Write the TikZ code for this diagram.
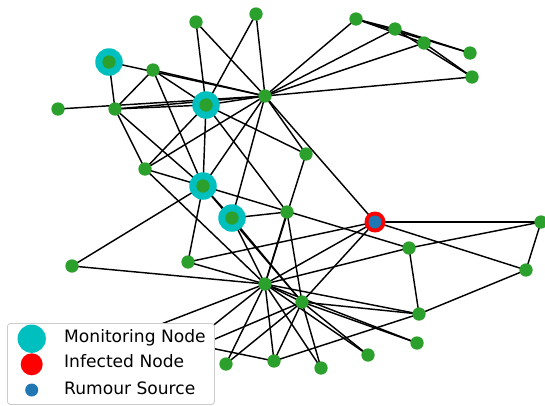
\documentclass[tikz,border=0pt]{standalone}
\usepackage{fontspec}
\setmainfont{DejaVu Sans}
\definecolor{ngreen}{HTML}{2CA02C}
\definecolor{mcyan}{HTML}{00BFBF}
\definecolor{sblue}{HTML}{1F77B4}
\definecolor{lframe}{HTML}{CCCCCC}
\pgfdeclarelayer{edges}
\pgfsetlayers{edges,main}
\tikzset{
  vtx/.style={circle, fill=ngreen, inner sep=0pt, minimum size=13.3pt},
  monitor/.style={circle, fill=mcyan, inner sep=0pt, minimum size=27.5pt},
  infected/.style={circle, fill=red, inner sep=0pt, minimum size=21pt},
  source/.style={circle, fill=sblue, inner sep=0pt, minimum size=13pt},
  link/.style={line width=1.45pt, black},
  legendbox/.style={draw=lframe, line width=0.9pt, fill=white, rounded corners=3pt,
    inner sep=0pt, anchor=north west, minimum width=207pt, minimum height=81pt},
  legendtext/.style={anchor=base west, inner sep=0pt, font=\fontsize{17.1pt}{20pt}\selectfont},
}
\begin{document}
\begin{tikzpicture}[x=1pt, y=-1pt]
\useasboundingbox (0,0) rectangle (545,405);

% monitoring halos
\node[monitor] (m1)  at (206,105) {};
\node[monitor] (m2)  at (203,186) {};
\node[monitor] (m8)  at (232,218) {};
\node[monitor] (m12) at (109,62) {};
% infected ring
\node[infected] (inf31) at (375,222) {};

% vertices
\node[vtx] (n0)  at (265,96) {};
\node[vtx] (n1)  at (206,105) {};
\node[vtx] (n2)  at (203,186) {};
\node[vtx] (n3)  at (115,109) {};
\node[vtx] (n4)  at (472,77) {};
\node[vtx] (n5)  at (356,19) {};
\node[vtx] (n6)  at (395,29) {};
\node[vtx] (n7)  at (153,70) {};
\node[vtx] (n8)  at (232,218) {};
\node[vtx] (n9)  at (72,266) {};
\node[vtx] (n10) at (424,43) {};
\node[vtx] (n11) at (58,109) {};
\node[vtx] (n12) at (109,62) {};
\node[vtx] (n13) at (145,169) {};
\node[vtx] (n14) at (226,364) {};
\node[vtx] (n15) at (417,343) {};
\node[vtx] (n16) at (470,53) {};
\node[vtx] (n17) at (196,22) {};
\node[vtx] (n18) at (368,355) {};
\node[vtx] (n19) at (306,154) {};
\node[vtx] (n20) at (321,368) {};
\node[vtx] (n21) at (256,14) {};
\coordinate (n22) at (175,356);
\node[vtx] (n23) at (419,314) {};
\node[vtx] (n24) at (541,222) {};
\node[vtx] (n25) at (526,270) {};
\coordinate (n26) at (138,333);
\node[vtx] (n27) at (409,248) {};
\node[vtx] (n28) at (188,262) {};
\node[vtx] (n29) at (274,361) {};
\node[vtx] (n30) at (287,212) {};
\node[source] (n31) at (375,222) {};
\node[vtx] (n32) at (302,302) {};
\node[vtx] (n33) at (265,284) {};

% connections, kept beneath the vertices
\begin{pgfonlayer}{edges}
\foreach \a/\b in {
  0/1,0/2,0/3,0/4,0/5,0/6,0/7,0/8,0/10,0/11,0/12,0/13,0/17,0/19,0/21,0/31,
  1/2,1/3,1/7,1/13,1/17,1/19,1/21,1/30,
  2/3,2/7,2/8,2/9,2/13,2/27,2/28,2/32,
  3/7,3/12,3/13,
  4/6,4/10,
  5/6,5/10,5/16,
  6/16,
  8/30,8/32,8/33,
  9/33,
  13/33,
  14/32,14/33,
  15/32,15/33,
  18/32,18/33,
  19/33,
  20/32,20/33,
  22/32,22/33,
  23/25,23/27,23/29,23/32,23/33,
  24/25,24/27,24/31,
  25/31,
  26/29,26/33,
  27/33,
  28/31,28/33,
  29/32,29/33,
  30/32,30/33,
  31/32,31/33,
  32/33}
  \draw[link] (n\a.center) -- (n\b.center);
\end{pgfonlayer}

% legend
\node[legendbox] (legend) at (7,323) {};
\node[monitor, minimum size=28.3pt] (lgm) at (31.7,338.7) {};
\node[infected, minimum size=22pt] (lgi) at (31.7,364.3) {};
\node[source] (lgs) at (31.7,390) {};
\node[legendtext] (lgmt) at (64,342.3) {Monitoring Node};
\node[legendtext] (lgit) at (64,367.7) {Infected Node};
\node[legendtext] (lgst) at (64,394) {Rumour Source};
\end{tikzpicture}
\end{document}
